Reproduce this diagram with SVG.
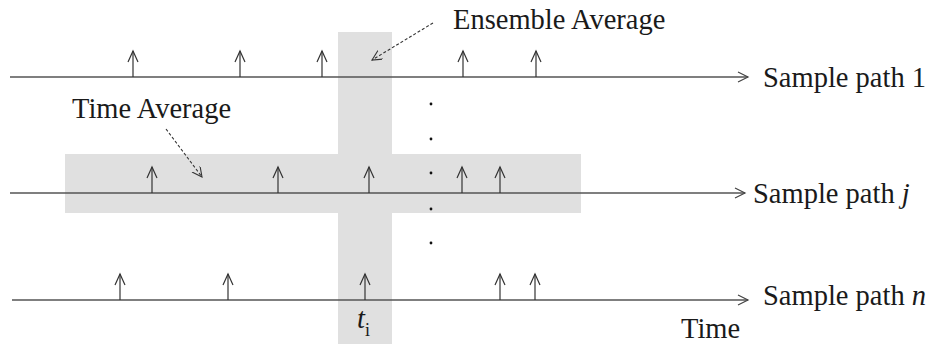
<svg xmlns="http://www.w3.org/2000/svg" xmlns:xlink="http://www.w3.org/1999/xlink" width="930" height="344" viewBox="0 0 930 344">
  <style>
    .band { fill: #e0e0e0; }
    .axis { stroke: #555; stroke-width: 1.4; fill: none; }
    .head { stroke: #444; stroke-width: 1.2; fill: none; }
    .tick { stroke: #333; stroke-width: 1.2; fill: none; }
    .lead { stroke: #333; stroke-width: 1.1; fill: none; stroke-dasharray: 3 2; }
    .label { font-family: "Liberation Serif", "Times New Roman", serif; font-size: 28.5px; fill: #1a1a1a; }
    .dot { fill: #111; }
  </style>
  <defs>
    <!-- event impulse: stem with open V head, origin on the axis -->
    <g id="impulse">
      <line class="tick" x1="0" y1="0" x2="0" y2="-26"/>
      <polyline class="tick" points="-5,-15 0,-26 5,-15"/>
    </g>
    <marker id="openHead" markerWidth="12" markerHeight="12" refX="10" refY="5" orient="auto" markerUnits="userSpaceOnUse">
      <polyline points="0,0 10,5 0,10" fill="none" stroke="#333" stroke-width="1.1"/>
    </marker>
  </defs>

  <!-- averaging windows -->
  <g id="ensemble-window">
    <rect class="band" x="338" y="32" width="54" height="312"/>
  </g>
  <g id="time-window">
    <rect class="band" x="65" y="154" width="516" height="59"/>
  </g>

  <!-- sample path 1 -->
  <g id="path-1">
    <line class="axis" x1="10" y1="77" x2="748" y2="77"/>
    <polyline class="head" points="738,72 748,77 738,82"/>
    <use xlink:href="#impulse" x="133" y="77"/>
    <use xlink:href="#impulse" x="240" y="77"/>
    <use xlink:href="#impulse" x="322" y="77"/>
    <use xlink:href="#impulse" x="463" y="77"/>
    <use xlink:href="#impulse" x="536" y="77"/>
    <text class="label" x="763" y="87">Sample path 1</text>
  </g>

  <!-- sample path j -->
  <g id="path-j">
    <line class="axis" x1="10" y1="193" x2="745" y2="193"/>
    <polyline class="head" points="735,188 745,193 735,198"/>
    <use xlink:href="#impulse" x="152" y="193"/>
    <use xlink:href="#impulse" x="278" y="193"/>
    <use xlink:href="#impulse" x="369" y="193"/>
    <use xlink:href="#impulse" x="462" y="193"/>
    <use xlink:href="#impulse" x="500" y="193"/>
    <text class="label" x="753" y="203">Sample path <tspan font-style="italic">j</tspan></text>
  </g>

  <!-- sample path n -->
  <g id="path-n">
    <line class="axis" x1="12" y1="300" x2="748" y2="300"/>
    <polyline class="head" points="738,295 748,300 738,305"/>
    <use xlink:href="#impulse" x="120" y="300"/>
    <use xlink:href="#impulse" x="228" y="300"/>
    <use xlink:href="#impulse" x="365" y="300"/>
    <use xlink:href="#impulse" x="500" y="300"/>
    <use xlink:href="#impulse" x="535" y="300"/>
    <text class="label" x="763" y="305">Sample path <tspan font-style="italic">n</tspan></text>
  </g>

  <!-- vertical ellipsis between paths -->
  <g id="ellipsis">
    <circle class="dot" cx="431" cy="104" r="1.4"/>
    <circle class="dot" cx="431" cy="139" r="1.4"/>
    <circle class="dot" cx="431" cy="173" r="1.4"/>
    <circle class="dot" cx="431" cy="209" r="1.4"/>
    <circle class="dot" cx="431" cy="243" r="1.4"/>
  </g>

  <!-- callouts -->
  <g id="connectors">
    <line class="lead" x1="433" y1="23" x2="372" y2="60" marker-end="url(#openHead)"/>
    <line class="lead" x1="166" y1="129" x2="202" y2="177" marker-end="url(#openHead)"/>
  </g>
  <g id="ensemble-label">
    <text class="label" x="453" y="29">Ensemble Average</text>
  </g>
  <g id="time-label">
    <text class="label" x="72" y="118">Time Average</text>
  </g>

  <!-- time axis annotations -->
  <g id="instant-label">
    <text class="label" x="357" y="328"><tspan font-style="italic">t</tspan><tspan font-size="18" dy="8">i</tspan></text>
  </g>
  <g id="time-axis-label">
    <text class="label" x="681" y="338">Time</text>
  </g>
</svg>
